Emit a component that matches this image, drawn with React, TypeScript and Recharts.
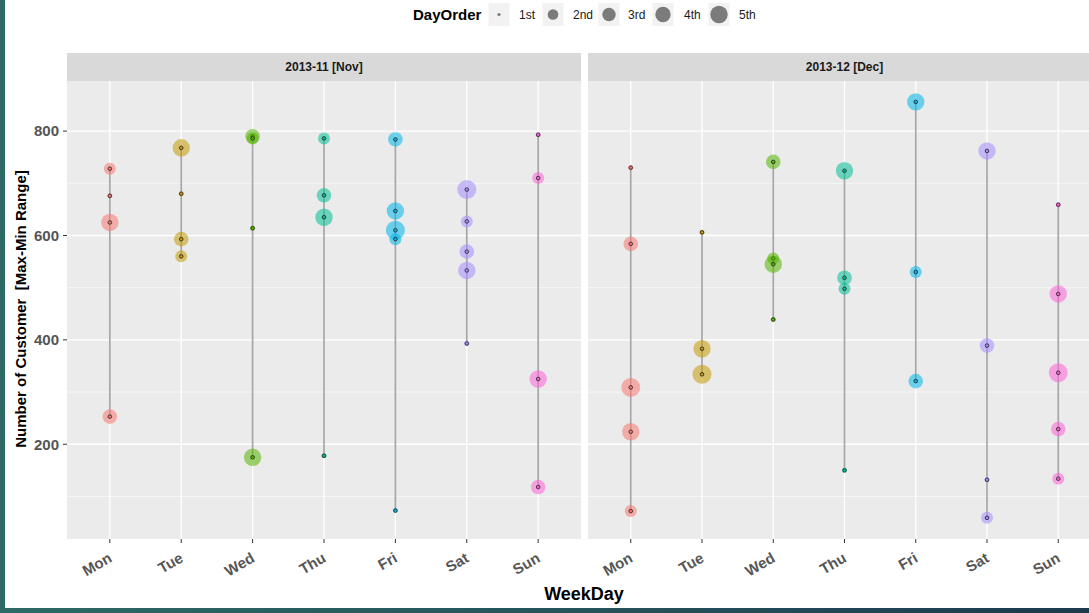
import React from 'react';
import { ScatterChart, Scatter, XAxis, YAxis, CartesianGrid } from 'recharts';

// ---------- data ----------
const DAYS = ['Mon', 'Tue', 'Wed', 'Thu', 'Fri', 'Sat', 'Sun'];
const ORDER_LABELS = ['1st', '2nd', '3rd', '4th', '5th'];
const Y_TICKS = [200, 400, 600, 800];
const Y_MINOR = [100, 300, 500, 700];

const novDay = [
  'Mon', 'Mon', 'Mon', 'Mon',
  'Tue', 'Tue', 'Tue', 'Tue',
  'Wed', 'Wed', 'Wed', 'Wed',
  'Thu', 'Thu', 'Thu', 'Thu',
  'Fri', 'Fri', 'Fri', 'Fri', 'Fri',
  'Sat', 'Sat', 'Sat', 'Sat', 'Sat',
  'Sun', 'Sun', 'Sun', 'Sun',
];
const novOrder = [
  2, 1, 4, 3,
  4, 1, 3, 2,
  3, 2, 1, 4,
  2, 3, 4, 1,
  3, 4, 5, 2, 1,
  5, 2, 3, 4, 1,
  1, 2, 4, 3,
];
const novCustomers = [
  728, 676, 625, 253,
  768, 680, 593, 560,
  790, 786, 614, 175,
  786, 677, 635, 178,
  784, 647, 610, 593, 73,
  688, 627, 569, 533, 393,
  793, 710, 325, 118,
];

const decDay = [
  'Mon', 'Mon', 'Mon', 'Mon', 'Mon',
  'Tue', 'Tue', 'Tue',
  'Wed', 'Wed', 'Wed', 'Wed',
  'Thu', 'Thu', 'Thu', 'Thu',
  'Fri', 'Fri', 'Fri',
  'Sat', 'Sat', 'Sat', 'Sat',
  'Sun', 'Sun', 'Sun', 'Sun', 'Sun',
];
const decOrder = [
  1, 3, 5, 4, 2,
  1, 4, 5,
  3, 2, 4, 1,
  4, 3, 2, 1,
  4, 2, 3,
  4, 3, 1, 2,
  1, 4, 5, 3, 2,
];
const decCustomers = [
  730, 584, 309, 224, 72,
  606, 383, 334,
  741, 556, 545, 439,
  724, 519, 498, 150,
  856, 530, 321,
  762, 389, 132, 59,
  659, 488, 337, 229, 134,
];

// ---------- styles ----------
const DAY_COLORS = ['#F8766D', '#C49A00', '#53B400', '#00C094', '#00B6EB', '#A58AFF', '#FB61D7'];
const ORDER_RADIUS = [2.5, 6, 7.3, 8.7, 9.5];
const LEGEND_RADIUS = [1.6, 5.3, 6.7, 7.7, 8.7];
const FONT = '"Liberation Sans", Arial, Helvetica, sans-serif';
const Y_DOMAIN = [18.5, 896];
const PANEL_TOP = 81;
const CHART_H = 532;

const Bubble = (props: any) => {
  const { cx, cy, payload, fill } = props;
  if (cx == null || cy == null) return <g />;
  const r = ORDER_RADIUS[payload.order - 1];
  return (
    <g>
      <circle cx={cx} cy={cy} r={r} fill={fill} fillOpacity={0.55} />
      <circle cx={cx} cy={cy} r={1.8} fill={fill} stroke="#262626" strokeWidth={1} strokeOpacity={0.85} />
    </g>
  );
};

const NoShape = () => <g />;

const DayTick = (props: any) => {
  const { x, y, payload } = props;
  const px = x + 3;
  const py = y + 18;
  return (
    <text
      x={px}
      y={py}
      transform={`rotate(-30 ${px} ${py})`}
      textAnchor="end"
      fontSize={15}
      fontWeight="bold"
      fontFamily={FONT}
      fill="#555555"
    >
      {DAYS[payload.value]}
    </text>
  );
};

function Panel(props: {
  day: string[];
  order: number[];
  cust: number[];
  showY: boolean;
  left: number;
  width: number;
  margin: any;
}) {
  const { day, order, cust, showY, left, width, margin } = props;
  const rows = day.map((d, i) => ({ x: DAYS.indexOf(d), y: cust[i], order: order[i] }));
  return (
    <div style={{ position: 'absolute', left, top: PANEL_TOP }}>
      <ScatterChart width={width} height={CHART_H} margin={margin}>
        <CartesianGrid fill="#EBEBEB" stroke="#FFFFFF" strokeWidth={0.6} horizontalValues={Y_MINOR} vertical={false} />
        <CartesianGrid
          stroke="#FFFFFF"
          strokeWidth={1.3}
          horizontalValues={Y_TICKS}
          verticalValues={DAYS.map((_, i) => i)}
        />
        <XAxis
          type="number"
          dataKey="x"
          domain={[-0.6, 6.6]}
          ticks={DAYS.map((_, i) => i)}
          allowDataOverflow
          axisLine={false}
          tickLine={{ stroke: '#333333', strokeWidth: 1 }}
          tickSize={4}
          tickMargin={0}
          height={60}
          tick={<DayTick />}
          interval={0}
        />
        <YAxis
          type="number"
          dataKey="y"
          domain={Y_DOMAIN}
          ticks={Y_TICKS}
          allowDataOverflow
          hide={!showY}
          width={60}
          axisLine={false}
          tickLine={{ stroke: '#333333', strokeWidth: 1 }}
          tickSize={4}
          tickMargin={4}
          tick={{ fontSize: 15, fontWeight: 'bold', fill: '#555555', fontFamily: FONT }}
        />
        {DAYS.map((d, i) => {
          const vals = rows.filter((r) => r.x === i).map((r) => r.y);
          if (!vals.length) return null;
          const seg = [
            { x: i, y: Math.min(...vals), order: 1 },
            { x: i, y: Math.max(...vals), order: 1 },
          ];
          return (
            <Scatter
              key={'range-' + d}
              data={seg}
              line={{ stroke: '#A6A6A6', strokeWidth: 1.7 }}
              lineType="joint"
              shape={NoShape}
              isAnimationActive={false}
            />
          );
        })}
        {DAYS.map((d, i) => (
          <Scatter
            key={'pts-' + d}
            data={rows.filter((r) => r.x === i)}
            fill={DAY_COLORS[i]}
            shape={Bubble}
            isAnimationActive={false}
          />
        ))}
      </ScatterChart>
    </div>
  );
}

const Strip = ({ left, width, label }: { left: number; width: number; label: string }) => (
  <div
    style={{
      position: 'absolute',
      left,
      top: 53,
      width,
      height: 28,
      background: '#D9D9D9',
      color: '#1A1A1A',
      fontFamily: FONT,
      fontWeight: 'bold',
      fontSize: 12,
      lineHeight: '28px',
      textAlign: 'center',
    }}
  >
    {label}
  </div>
);

const LEGEND_CX = [499, 553, 609, 663, 719];
const LEGEND_TX = [519, 573, 628, 684, 739];

const SizeLegend = () => (
  <svg width={1089} height={32} style={{ position: 'absolute', left: 0, top: 0 }}>
    <text x={413} y={20} fontFamily={FONT} fontWeight="bold" fontSize={15} fill="#000">
      DayOrder
    </text>
    {ORDER_LABELS.map((lab, i) => (
      <g key={lab}>
        <rect x={LEGEND_CX[i] - 10.5} y={3} width={21} height={23} fill="#F2F2F2" />
        <circle cx={LEGEND_CX[i]} cy={14.5} r={LEGEND_RADIUS[i]} fill="#666666" fillOpacity={0.85} />
        <text x={LEGEND_TX[i]} y={19} fontFamily={FONT} fontSize={12} fill="#1A1A1A">
          {lab}
        </text>
      </g>
    ))}
  </svg>
);

export default function App() {
  return (
    <div
      style={{
        position: 'absolute',
        left: 0,
        top: 0,
        width: 1089,
        height: 613,
        overflow: 'hidden',
        background: 'linear-gradient(90deg, #2C6A64 0%, #24505A 60%, #1C3A4C 100%)',
      }}
    >
      <div style={{ position: 'absolute', left: 5, top: 0, width: 1084, height: 608, background: '#FFFFFF' }} />
      <SizeLegend />
      <Strip left={67} width={514} label="2013-11 [Nov]" />
      <Strip left={588} width={513} label="2013-12 [Dec]" />
      <Panel
        day={novDay}
        order={novOrder}
        cust={novCustomers}
        showY
        left={0}
        width={600}
        margin={{ top: 0, right: 19, bottom: 14, left: 7 }}
      />
      <Panel
        day={decDay}
        order={decOrder}
        cust={decCustomers}
        showY={false}
        left={588}
        width={520}
        margin={{ top: 0, right: 7, bottom: 14, left: 0 }}
      />
      <div
        style={{
          position: 'absolute',
          left: 21 - 200,
          top: 309 - 10,
          width: 400,
          height: 20,
          lineHeight: '20px',
          textAlign: 'center',
          transform: 'rotate(-90deg)',
          fontFamily: FONT,
          fontWeight: 'bold',
          fontSize: 15,
          color: '#000',
          whiteSpace: 'pre',
        }}
      >
        {'Number of Customer  [Max-Min Range]'}
      </div>
      <div
        style={{
          position: 'absolute',
          left: 584 - 100,
          top: 583,
          width: 200,
          height: 22,
          lineHeight: '22px',
          textAlign: 'center',
          fontFamily: FONT,
          fontWeight: 'bold',
          fontSize: 18,
          color: '#000',
        }}
      >
        WeekDay
      </div>
    </div>
  );
}
